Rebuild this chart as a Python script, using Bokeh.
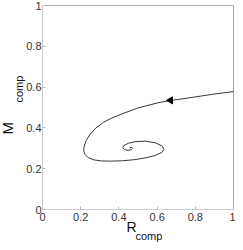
import math
from bokeh.plotting import figure
from bokeh.models import Range1d, Title, FixedTicker
from bokeh.embed import file_html
from bokeh.resources import INLINE

# trajectory (R_comp, M_comp)
r_comp = [1.00, 0.90, 0.80, 0.70, 0.67, 0.60, 0.50, 0.42, 0.36, 0.32, 0.28, 0.25,
          0.23, 0.218, 0.216, 0.222, 0.24, 0.27, 0.31, 0.36, 0.42, 0.48, 0.54,
          0.59, 0.625, 0.636, 0.625, 0.59, 0.54, 0.49, 0.45, 0.425, 0.42, 0.43,
          0.448, 0.465, 0.472, 0.465, 0.455]
m_comp = [0.578, 0.566, 0.552, 0.538, 0.535, 0.522, 0.498, 0.470, 0.447, 0.428,
          0.400, 0.370, 0.340, 0.310, 0.288, 0.270, 0.254, 0.243, 0.238, 0.237,
          0.239, 0.244, 0.253, 0.265, 0.280, 0.295, 0.312, 0.327, 0.335, 0.333,
          0.325, 0.313, 0.303, 0.294, 0.290, 0.293, 0.300, 0.305, 0.302]
arrow_r = [0.67]
arrow_m = [0.535]
ticks = [0, 0.2, 0.4, 0.6, 0.8, 1]
tick_labels = {0: "0", 0.2: "0.2", 0.4: "0.4", 0.6: "0.6", 0.8: "0.8", 1: "1"}

FONT = "Liberation Sans"

p = figure(width=235, height=242, output_backend="svg", toolbar_location=None,
           x_range=Range1d(0, 1), y_range=Range1d(0, 1),
           min_border_left=40, min_border_right=2, min_border_top=5,
           min_border_bottom=33)
p.grid.visible = False
p.outline_line_color = "#aaaaaa"
p.background_fill_color = "white"
p.border_fill_color = "white"

for ax in (p.xaxis[0], p.yaxis[0]):
    ax.ticker = FixedTicker(ticks=ticks)
    ax.major_label_overrides = tick_labels
    ax.major_tick_in = 3
    ax.major_tick_out = 0
    ax.minor_tick_line_color = None
    ax.major_tick_line_color = "#bbbbbb"
    ax.axis_line_color = "#cccccc"
    ax.major_label_text_font = FONT
    ax.major_label_text_font_size = "11px"
    ax.major_label_text_color = "#333333"
p.xaxis.major_label_standoff = 3
p.yaxis.major_label_standoff = 1

p.line(r_comp, m_comp, line_color="#222222", line_width=0.9)
p.scatter(arrow_r, arrow_m, marker="triangle", angle=math.pi / 2, size=7,
          fill_color="black", line_color="black")

# axis labels with subscripts, as stacked titles
p.add_layout(Title(text="R", align="left", offset=84, standoff=-10,
                   vertical_align="top",
                   text_font=FONT, text_font_size="14px", text_font_style="normal",
                   text_color="#111111"), "below")
p.add_layout(Title(text="comp", align="left", offset=93, standoff=-4,
                   vertical_align="top",
                   text_font=FONT, text_font_size="11px", text_font_style="normal",
                   text_color="#111111"), "below")
p.add_layout(Title(text="comp", align="left", offset=107, standoff=-2,
                   text_font=FONT, text_font_size="11px", text_font_style="normal",
                   text_color="#111111"), "left")
p.add_layout(Title(text="M", align="left", offset=75, standoff=-8,
                   text_font=FONT, text_font_size="15px", text_font_style="normal",
                   text_color="#111111"), "left")

open("out.html", "w").write(file_html(p, INLINE))
